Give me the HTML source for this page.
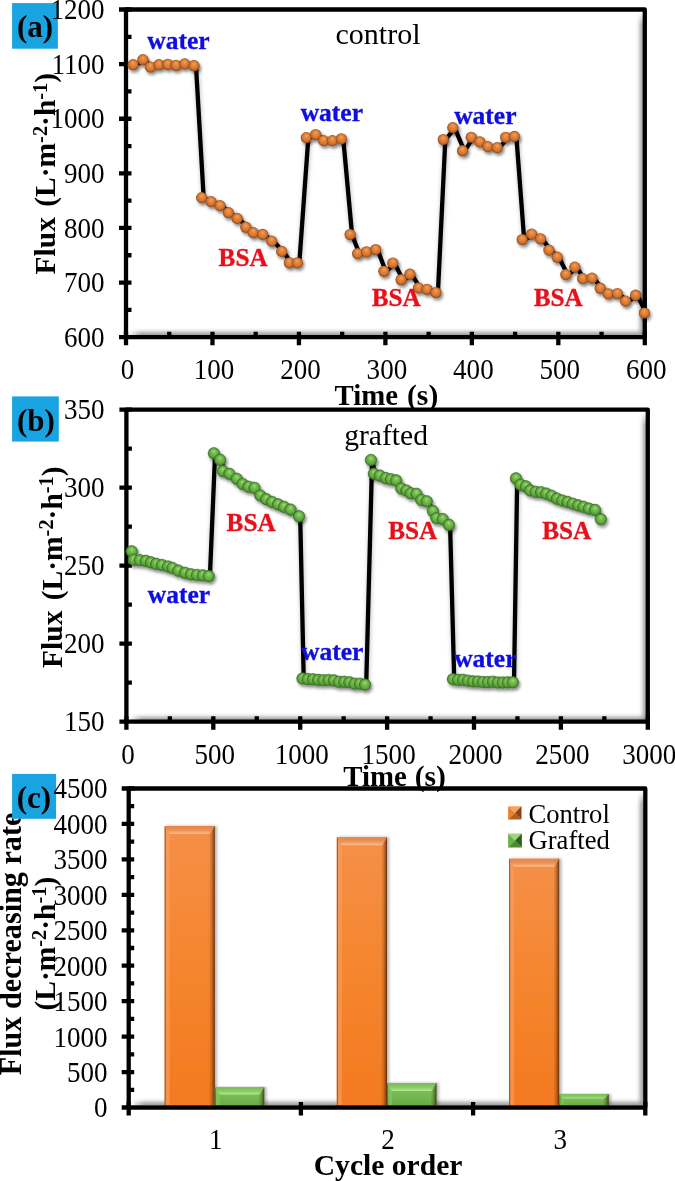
<!DOCTYPE html><html><head><meta charset="utf-8"><style>html,body{margin:0;padding:0;background:#fff;width:675px;height:1181px;overflow:hidden}#w{position:relative;width:675px;height:1181px}svg{position:absolute;left:0;top:0;display:block;will-change:transform}text{font-family:"Liberation Serif",serif}</style></head><body><div id="w">
<div style="position:absolute;left:128.2px;top:11.7px;width:514.5px;height:323.4px;box-shadow:inset -5px -5px 4px -2px rgba(0,0,0,0.4);-webkit-mask-image:linear-gradient(to bottom,transparent 0,#000 13px),linear-gradient(to right,transparent 0,#000 13px);-webkit-mask-composite:source-in;mask-composite:intersect"></div>
<div style="position:absolute;left:128.6px;top:411.8px;width:517.1px;height:307.8px;box-shadow:inset -5px -5px 4px -2px rgba(0,0,0,0.4);-webkit-mask-image:linear-gradient(to bottom,transparent 0,#000 13px),linear-gradient(to right,transparent 0,#000 13px);-webkit-mask-composite:source-in;mask-composite:intersect"></div>
<div style="position:absolute;left:130.8px;top:790.6px;width:512.3px;height:314.7px;box-shadow:inset -5px -5px 4px -2px rgba(0,0,0,0.4);-webkit-mask-image:linear-gradient(to bottom,transparent 0,#000 13px),linear-gradient(to right,transparent 0,#000 13px);-webkit-mask-composite:source-in;mask-composite:intersect"></div>
<svg width="675" height="1181" viewBox="0 0 675 1181">
<defs>
<radialGradient id="gO" cx="0.5" cy="0.5" r="0.5" fx="0.5" fy="0.3"><stop offset="0" stop-color="#F4A468"/><stop offset="0.35" stop-color="#E6883E"/><stop offset="0.7" stop-color="#D47430"/><stop offset="0.9" stop-color="#A85A22"/><stop offset="1" stop-color="#7A3F14"/></radialGradient>
<radialGradient id="gG" cx="0.5" cy="0.5" r="0.5" fx="0.5" fy="0.3"><stop offset="0" stop-color="#A2DC7A"/><stop offset="0.35" stop-color="#78C050"/><stop offset="0.7" stop-color="#62A840"/><stop offset="0.9" stop-color="#4A8A30"/><stop offset="1" stop-color="#2E5E1A"/></radialGradient>
<filter id="ds" x="-20%" y="-20%" width="140%" height="140%"><feDropShadow dx="1.5" dy="2.5" stdDeviation="1.8" flood-color="#000" flood-opacity="0.45"/></filter>
<filter id="dl" x="-20%" y="-20%" width="140%" height="140%"><feDropShadow dx="0.5" dy="0.5" stdDeviation="2.2" flood-color="#000" flood-opacity="0.28"/></filter>
<filter id="db" x="-20%" y="-5%" width="140%" height="110%"><feDropShadow dx="2" dy="0" stdDeviation="1.5" flood-color="#000" flood-opacity="0.3"/></filter>
<linearGradient id="bOv" x1="0" y1="0" x2="0" y2="1"><stop offset="0" stop-color="#F59048"/><stop offset="0.5" stop-color="#F5852E"/><stop offset="1" stop-color="#F37A20"/></linearGradient>
<linearGradient id="tO" x1="0" y1="0" x2="0" y2="1"><stop offset="0" stop-color="#E4844A"/><stop offset="0.55" stop-color="#EE9458"/><stop offset="1" stop-color="#FBBE8A"/></linearGradient>
<linearGradient id="tG" x1="0" y1="0" x2="0" y2="1"><stop offset="0" stop-color="#78BA56"/><stop offset="0.55" stop-color="#8ACC66"/><stop offset="1" stop-color="#B2EA90"/></linearGradient>
<linearGradient id="bGv" x1="0" y1="0" x2="0" y2="1"><stop offset="0" stop-color="#86C860"/><stop offset="1" stop-color="#68AC44"/></linearGradient>
<linearGradient id="bR" x1="0" y1="0" x2="1" y2="0"><stop offset="0" stop-color="#2A1000" stop-opacity="0"/><stop offset="0.5" stop-color="#2A1000" stop-opacity="0.22"/><stop offset="0.85" stop-color="#2A1000" stop-opacity="0.55"/><stop offset="1" stop-color="#2A1000" stop-opacity="0.75"/></linearGradient>
<linearGradient id="bL" x1="0" y1="0" x2="1" y2="0"><stop offset="0" stop-color="#000" stop-opacity="0.25"/><stop offset="0.3" stop-color="#fff" stop-opacity="0.15"/><stop offset="1" stop-color="#fff" stop-opacity="0"/></linearGradient>
</defs>
<path d="M126,337.2V9.5H644.8V337.2" stroke="#000" stroke-width="4.3" fill="none" stroke-linejoin="round"/>
<path d="M119,9.5H126M644.8,337.2V345.2M126,337.2V345.2M119,337.2H646.9499999999999M119,337.20H131.5M119,282.58H131.5M119,227.97H131.5M119,173.35H131.5M119,118.73H131.5M119,64.12H131.5M119,9.50H131.5M126,309.89H131.5M126,255.27H131.5M126,200.66H131.5M126,146.04H131.5M126,91.42H131.5M126,36.81H131.5M126.00,331.7V345.2M212.47,331.7V345.2M298.93,331.7V345.2M385.40,331.7V345.2M471.87,331.7V345.2M558.33,331.7V345.2M644.80,331.7V345.2M169.23,331.7V337.2M255.70,331.7V337.2M342.17,331.7V337.2M428.63,331.7V337.2M515.10,331.7V337.2M601.57,331.7V337.2" stroke="#000" stroke-width="4.3" fill="none"/>
<polyline points="135.1,65.2 144.9,60.2 152.4,67.5 160.9,65.2 169.7,64.8 178.0,65.8 186.7,64.4 196.0,66.2 203.7,198.1 213.1,202.1 222.0,206.1 230.4,213.2 239.2,218.9 247.8,227.7 255.2,233.1 264.7,234.9 273.6,241.6 283.7,251.9 291.3,263.3 299.3,263.3 308.3,138.1 317.6,135.0 325.6,141.1 334.4,141.1 343.3,139.3 352.1,235.0 359.6,254.1 368.4,252.3 377.7,250.0 385.9,271.8 394.8,263.5 403.1,280.2 411.9,274.7 420.4,288.4 429.0,289.8 437.9,293.0 445.3,140.0 454.8,128.1 464.5,151.2 473.2,137.8 481.8,142.3 489.8,147.1 499.2,148.1 507.6,137.8 516.4,136.9 524.2,240.0 533.6,234.6 542.5,239.3 550.9,250.6 559.2,257.7 567.8,275.1 576.8,267.6 584.6,279.1 594.0,278.6 602.2,288.7 610.2,294.3 619.4,294.0 627.5,301.6 637.6,295.7 646.4,313.5" fill="none" stroke="#000" stroke-width="4.3" stroke-linejoin="round" filter="url(#dl)"/>
<g filter="url(#ds)"><circle cx="133.1" cy="64.7" r="5.6" fill="url(#gO)"/><circle cx="142.9" cy="59.7" r="5.6" fill="url(#gO)"/><circle cx="150.4" cy="67.0" r="5.6" fill="url(#gO)"/><circle cx="158.9" cy="64.7" r="5.6" fill="url(#gO)"/><circle cx="167.7" cy="64.3" r="5.6" fill="url(#gO)"/><circle cx="176.0" cy="65.3" r="5.6" fill="url(#gO)"/><circle cx="184.7" cy="63.9" r="5.6" fill="url(#gO)"/><circle cx="194.0" cy="65.7" r="5.6" fill="url(#gO)"/><circle cx="201.7" cy="197.6" r="5.6" fill="url(#gO)"/><circle cx="211.1" cy="201.6" r="5.6" fill="url(#gO)"/><circle cx="220.0" cy="205.6" r="5.6" fill="url(#gO)"/><circle cx="228.4" cy="212.7" r="5.6" fill="url(#gO)"/><circle cx="237.2" cy="218.4" r="5.6" fill="url(#gO)"/><circle cx="245.8" cy="227.2" r="5.6" fill="url(#gO)"/><circle cx="253.2" cy="232.6" r="5.6" fill="url(#gO)"/><circle cx="262.7" cy="234.4" r="5.6" fill="url(#gO)"/><circle cx="271.6" cy="241.1" r="5.6" fill="url(#gO)"/><circle cx="281.7" cy="251.4" r="5.6" fill="url(#gO)"/><circle cx="289.3" cy="262.8" r="5.6" fill="url(#gO)"/><circle cx="297.3" cy="262.8" r="5.6" fill="url(#gO)"/><circle cx="306.3" cy="137.6" r="5.6" fill="url(#gO)"/><circle cx="315.6" cy="134.5" r="5.6" fill="url(#gO)"/><circle cx="323.6" cy="140.6" r="5.6" fill="url(#gO)"/><circle cx="332.4" cy="140.6" r="5.6" fill="url(#gO)"/><circle cx="341.3" cy="138.8" r="5.6" fill="url(#gO)"/><circle cx="350.1" cy="234.5" r="5.6" fill="url(#gO)"/><circle cx="357.6" cy="253.6" r="5.6" fill="url(#gO)"/><circle cx="366.4" cy="251.8" r="5.6" fill="url(#gO)"/><circle cx="375.7" cy="249.5" r="5.6" fill="url(#gO)"/><circle cx="383.9" cy="271.3" r="5.6" fill="url(#gO)"/><circle cx="392.8" cy="263.0" r="5.6" fill="url(#gO)"/><circle cx="401.1" cy="279.7" r="5.6" fill="url(#gO)"/><circle cx="409.9" cy="274.2" r="5.6" fill="url(#gO)"/><circle cx="418.4" cy="287.9" r="5.6" fill="url(#gO)"/><circle cx="427.0" cy="289.3" r="5.6" fill="url(#gO)"/><circle cx="435.9" cy="292.5" r="5.6" fill="url(#gO)"/><circle cx="443.3" cy="139.5" r="5.6" fill="url(#gO)"/><circle cx="452.8" cy="127.6" r="5.6" fill="url(#gO)"/><circle cx="462.5" cy="150.7" r="5.6" fill="url(#gO)"/><circle cx="471.2" cy="137.3" r="5.6" fill="url(#gO)"/><circle cx="479.8" cy="141.8" r="5.6" fill="url(#gO)"/><circle cx="487.8" cy="146.6" r="5.6" fill="url(#gO)"/><circle cx="497.2" cy="147.6" r="5.6" fill="url(#gO)"/><circle cx="505.6" cy="137.3" r="5.6" fill="url(#gO)"/><circle cx="514.4" cy="136.4" r="5.6" fill="url(#gO)"/><circle cx="522.2" cy="239.5" r="5.6" fill="url(#gO)"/><circle cx="531.6" cy="234.1" r="5.6" fill="url(#gO)"/><circle cx="540.5" cy="238.8" r="5.6" fill="url(#gO)"/><circle cx="548.9" cy="250.1" r="5.6" fill="url(#gO)"/><circle cx="557.2" cy="257.2" r="5.6" fill="url(#gO)"/><circle cx="565.8" cy="274.6" r="5.6" fill="url(#gO)"/><circle cx="574.8" cy="267.1" r="5.6" fill="url(#gO)"/><circle cx="582.6" cy="278.6" r="5.6" fill="url(#gO)"/><circle cx="592.0" cy="278.1" r="5.6" fill="url(#gO)"/><circle cx="600.2" cy="288.2" r="5.6" fill="url(#gO)"/><circle cx="608.2" cy="293.8" r="5.6" fill="url(#gO)"/><circle cx="617.4" cy="293.5" r="5.6" fill="url(#gO)"/><circle cx="625.5" cy="301.1" r="5.6" fill="url(#gO)"/><circle cx="635.6" cy="295.2" r="5.6" fill="url(#gO)"/><circle cx="644.4" cy="313.0" r="5.6" fill="url(#gO)"/></g>
<text x="147.30" y="49.00" font-size="25.5" text-anchor="start" font-weight="bold" fill="#0E0EE2"  stroke="#0E0EE2" stroke-width="0.35">water</text>
<text x="300.70" y="121.30" font-size="25.5" text-anchor="start" font-weight="bold" fill="#0E0EE2"  stroke="#0E0EE2" stroke-width="0.35">water</text>
<text x="454.20" y="124.00" font-size="25.5" text-anchor="start" font-weight="bold" fill="#0E0EE2"  stroke="#0E0EE2" stroke-width="0.35">water</text>
<text x="335.50" y="43.90" font-size="30" text-anchor="start" fill="#000" >control</text>
<text x="218.60" y="265.90" font-size="25.2" text-anchor="start" font-weight="bold" fill="#E8101A"  stroke="#E8101A" stroke-width="0.35">BSA</text>
<text x="371.80" y="305.70" font-size="25.2" text-anchor="start" font-weight="bold" fill="#E8101A"  stroke="#E8101A" stroke-width="0.35">BSA</text>
<text x="533.80" y="305.90" font-size="25.2" text-anchor="start" font-weight="bold" fill="#E8101A"  stroke="#E8101A" stroke-width="0.35">BSA</text>
<text x="334.61" y="404.60" font-size="28.8" text-anchor="start" font-weight="bold" fill="#000" >Time</text>
<text x="407.02" y="404.60" font-size="29.6" text-anchor="start" font-weight="bold" fill="#000" >(s)</text>
<text transform="translate(55.2,274.39) rotate(-90) scale(0.97,1)" x="0" y="0" font-size="30.41" font-weight="bold" text-anchor="start">Flux <tspan dx="3">(L·m<tspan font-size="21" dy="-8.7">-2</tspan><tspan dy="8.7">·h</tspan><tspan font-size="21" dy="-8.7">-1</tspan><tspan dy="8.7">)</tspan></tspan></text>
<rect x="12.1" y="3.1" width="45.8" height="45.6" fill="#19A3E1"/>
<text x="35.00" y="37.20" font-size="31" text-anchor="middle" font-weight="bold" fill="#000" >(a)</text>
<text transform="translate(104.50,346.80) scale(0.95,1)" font-size="28.5" text-anchor="end">600</text>
<text transform="translate(104.50,292.18) scale(0.95,1)" font-size="28.5" text-anchor="end">700</text>
<text transform="translate(104.50,237.57) scale(0.95,1)" font-size="28.5" text-anchor="end">800</text>
<text transform="translate(104.50,182.95) scale(0.95,1)" font-size="28.5" text-anchor="end">900</text>
<text transform="translate(104.50,128.33) scale(0.95,1)" font-size="28.5" text-anchor="end">1000</text>
<text transform="translate(104.50,73.72) scale(0.95,1)" font-size="28.5" text-anchor="end">1100</text>
<text transform="translate(104.50,19.10) scale(0.95,1)" font-size="28.5" text-anchor="end">1200</text>
<text transform="translate(127.50,379.00) scale(0.95,1)" font-size="28.5" text-anchor="middle">0</text>
<text transform="translate(213.97,379.00) scale(0.95,1)" font-size="28.5" text-anchor="middle">100</text>
<text transform="translate(300.43,379.00) scale(0.95,1)" font-size="28.5" text-anchor="middle">200</text>
<text transform="translate(386.90,379.00) scale(0.95,1)" font-size="28.5" text-anchor="middle">300</text>
<text transform="translate(473.37,379.00) scale(0.95,1)" font-size="28.5" text-anchor="middle">400</text>
<text transform="translate(559.83,379.00) scale(0.95,1)" font-size="28.5" text-anchor="middle">500</text>
<text transform="translate(646.30,379.00) scale(0.95,1)" font-size="28.5" text-anchor="middle">600</text>
<path d="M126.4,721.7V409.6H647.8V721.7" stroke="#000" stroke-width="4.3" fill="none" stroke-linejoin="round"/>
<path d="M119.4,409.6H126.4M647.8,721.7V729.7M126.4,721.7V729.7M119.4,721.7H649.9499999999999M119.4,721.70H131.9M119.4,643.68H131.9M119.4,565.65H131.9M119.4,487.63H131.9M119.4,409.60H131.9M126.4,682.69H131.9M126.4,604.66H131.9M126.4,526.64H131.9M126.4,448.61H131.9M126.40,716.2V729.7M213.30,716.2V729.7M300.20,716.2V729.7M387.10,716.2V729.7M474.00,716.2V729.7M560.90,716.2V729.7M647.80,716.2V729.7M169.85,716.2V721.7M256.75,716.2V721.7M343.65,716.2V721.7M430.55,716.2V721.7M517.45,716.2V721.7M604.35,716.2V721.7" stroke="#000" stroke-width="4.3" fill="none"/>
<polyline points="132.9,551.6 135.1,560.1 141.0,560.5 146.9,561.2 152.1,562.7 157.3,564.2 163.2,565.3 169.2,566.8 173.7,568.3 179.5,570.9 186.2,573.1 192.1,574.6 198.1,575.3 204.0,575.7 209.9,576.4 215.1,453.6 221.3,460.1 224.0,471.4 230.6,474.1 238.0,479.1 243.8,484.3 249.6,487.0 255.6,488.1 261.5,495.8 267.4,499.4 273.3,502.3 279.3,504.7 285.2,507.1 291.7,509.9 300.2,516.6 303.7,678.8 308.9,679.4 314.1,679.6 319.3,680.2 324.5,680.5 329.7,680.3 334.9,680.7 340.2,682.1 345.4,682.1 350.6,682.6 355.8,684.0 361.0,684.0 366.2,684.9 372.1,460.3 375.1,474.0 381.0,475.9 386.9,478.4 392.1,479.6 397.3,480.7 402.5,488.8 407.6,490.8 411.9,493.6 417.6,494.1 422.5,500.3 427.9,501.6 434.1,511.4 437.6,518.5 443.9,519.4 450.1,525.2 454.2,679.5 459.2,680.1 464.2,680.1 469.1,681.0 474.1,681.7 479.1,681.8 484.1,682.3 489.1,682.4 494.1,682.0 499.0,682.8 504.0,682.8 509.0,682.7 514.0,682.6 517.2,478.7 521.6,485.0 527.0,486.7 531.4,490.7 536.8,492.1 542.1,492.5 547.4,493.9 552.8,496.1 558.1,498.9 563.4,500.8 568.6,502.2 574.0,504.0 579.3,505.7 584.6,507.1 590.0,508.9 596.2,510.2 602.0,519.5" fill="none" stroke="#000" stroke-width="4.3" stroke-linejoin="round" filter="url(#dl)"/>
<g filter="url(#ds)" stroke="#3C7428" stroke-width="0.6"><circle cx="131.7" cy="551.3" r="5.8" fill="url(#gG)"/><circle cx="133.9" cy="559.8" r="5.8" fill="url(#gG)"/><circle cx="139.8" cy="560.2" r="5.8" fill="url(#gG)"/><circle cx="145.7" cy="560.9" r="5.8" fill="url(#gG)"/><circle cx="150.9" cy="562.4" r="5.8" fill="url(#gG)"/><circle cx="156.1" cy="563.9" r="5.8" fill="url(#gG)"/><circle cx="162.0" cy="565.0" r="5.8" fill="url(#gG)"/><circle cx="168.0" cy="566.5" r="5.8" fill="url(#gG)"/><circle cx="172.5" cy="568.0" r="5.8" fill="url(#gG)"/><circle cx="178.3" cy="570.6" r="5.8" fill="url(#gG)"/><circle cx="185.0" cy="572.8" r="5.8" fill="url(#gG)"/><circle cx="190.9" cy="574.3" r="5.8" fill="url(#gG)"/><circle cx="196.9" cy="575.0" r="5.8" fill="url(#gG)"/><circle cx="202.8" cy="575.4" r="5.8" fill="url(#gG)"/><circle cx="208.7" cy="576.1" r="5.8" fill="url(#gG)"/><circle cx="213.9" cy="453.3" r="5.8" fill="url(#gG)"/><circle cx="220.1" cy="459.8" r="5.8" fill="url(#gG)"/><circle cx="222.8" cy="471.1" r="5.8" fill="url(#gG)"/><circle cx="229.4" cy="473.8" r="5.8" fill="url(#gG)"/><circle cx="236.8" cy="478.8" r="5.8" fill="url(#gG)"/><circle cx="242.6" cy="484.0" r="5.8" fill="url(#gG)"/><circle cx="248.4" cy="486.7" r="5.8" fill="url(#gG)"/><circle cx="254.4" cy="487.8" r="5.8" fill="url(#gG)"/><circle cx="260.3" cy="495.5" r="5.8" fill="url(#gG)"/><circle cx="266.2" cy="499.1" r="5.8" fill="url(#gG)"/><circle cx="272.1" cy="502.0" r="5.8" fill="url(#gG)"/><circle cx="278.1" cy="504.4" r="5.8" fill="url(#gG)"/><circle cx="284.0" cy="506.8" r="5.8" fill="url(#gG)"/><circle cx="290.5" cy="509.6" r="5.8" fill="url(#gG)"/><circle cx="299.0" cy="516.3" r="5.8" fill="url(#gG)"/><circle cx="302.5" cy="678.5" r="5.8" fill="url(#gG)"/><circle cx="307.7" cy="679.1" r="5.8" fill="url(#gG)"/><circle cx="312.9" cy="679.3" r="5.8" fill="url(#gG)"/><circle cx="318.1" cy="679.9" r="5.8" fill="url(#gG)"/><circle cx="323.3" cy="680.2" r="5.8" fill="url(#gG)"/><circle cx="328.5" cy="680.0" r="5.8" fill="url(#gG)"/><circle cx="333.8" cy="680.4" r="5.8" fill="url(#gG)"/><circle cx="339.0" cy="681.8" r="5.8" fill="url(#gG)"/><circle cx="344.2" cy="681.8" r="5.8" fill="url(#gG)"/><circle cx="349.4" cy="682.3" r="5.8" fill="url(#gG)"/><circle cx="354.6" cy="683.7" r="5.8" fill="url(#gG)"/><circle cx="359.8" cy="683.7" r="5.8" fill="url(#gG)"/><circle cx="365.0" cy="684.6" r="5.8" fill="url(#gG)"/><circle cx="370.9" cy="460.0" r="5.8" fill="url(#gG)"/><circle cx="373.9" cy="473.7" r="5.8" fill="url(#gG)"/><circle cx="379.8" cy="475.6" r="5.8" fill="url(#gG)"/><circle cx="385.7" cy="478.1" r="5.8" fill="url(#gG)"/><circle cx="390.9" cy="479.3" r="5.8" fill="url(#gG)"/><circle cx="396.1" cy="480.4" r="5.8" fill="url(#gG)"/><circle cx="401.3" cy="488.5" r="5.8" fill="url(#gG)"/><circle cx="406.4" cy="490.5" r="5.8" fill="url(#gG)"/><circle cx="410.7" cy="493.3" r="5.8" fill="url(#gG)"/><circle cx="416.4" cy="493.8" r="5.8" fill="url(#gG)"/><circle cx="421.3" cy="500.0" r="5.8" fill="url(#gG)"/><circle cx="426.7" cy="501.3" r="5.8" fill="url(#gG)"/><circle cx="432.9" cy="511.1" r="5.8" fill="url(#gG)"/><circle cx="436.4" cy="518.2" r="5.8" fill="url(#gG)"/><circle cx="442.7" cy="519.1" r="5.8" fill="url(#gG)"/><circle cx="448.9" cy="524.9" r="5.8" fill="url(#gG)"/><circle cx="453.0" cy="679.2" r="5.8" fill="url(#gG)"/><circle cx="458.0" cy="679.8" r="5.8" fill="url(#gG)"/><circle cx="463.0" cy="679.8" r="5.8" fill="url(#gG)"/><circle cx="467.9" cy="680.7" r="5.8" fill="url(#gG)"/><circle cx="472.9" cy="681.4" r="5.8" fill="url(#gG)"/><circle cx="477.9" cy="681.5" r="5.8" fill="url(#gG)"/><circle cx="482.9" cy="682.0" r="5.8" fill="url(#gG)"/><circle cx="487.9" cy="682.1" r="5.8" fill="url(#gG)"/><circle cx="492.9" cy="681.7" r="5.8" fill="url(#gG)"/><circle cx="497.8" cy="682.5" r="5.8" fill="url(#gG)"/><circle cx="502.8" cy="682.5" r="5.8" fill="url(#gG)"/><circle cx="507.8" cy="682.4" r="5.8" fill="url(#gG)"/><circle cx="512.8" cy="682.3" r="5.8" fill="url(#gG)"/><circle cx="516.0" cy="478.4" r="5.8" fill="url(#gG)"/><circle cx="520.4" cy="484.7" r="5.8" fill="url(#gG)"/><circle cx="525.8" cy="486.4" r="5.8" fill="url(#gG)"/><circle cx="530.2" cy="490.4" r="5.8" fill="url(#gG)"/><circle cx="535.6" cy="491.8" r="5.8" fill="url(#gG)"/><circle cx="540.9" cy="492.2" r="5.8" fill="url(#gG)"/><circle cx="546.2" cy="493.6" r="5.8" fill="url(#gG)"/><circle cx="551.6" cy="495.8" r="5.8" fill="url(#gG)"/><circle cx="556.9" cy="498.6" r="5.8" fill="url(#gG)"/><circle cx="562.2" cy="500.5" r="5.8" fill="url(#gG)"/><circle cx="567.4" cy="501.9" r="5.8" fill="url(#gG)"/><circle cx="572.8" cy="503.7" r="5.8" fill="url(#gG)"/><circle cx="578.1" cy="505.4" r="5.8" fill="url(#gG)"/><circle cx="583.4" cy="506.8" r="5.8" fill="url(#gG)"/><circle cx="588.8" cy="508.6" r="5.8" fill="url(#gG)"/><circle cx="595.0" cy="509.9" r="5.8" fill="url(#gG)"/><circle cx="600.8" cy="519.2" r="5.8" fill="url(#gG)"/></g>
<text x="344.22" y="444.90" font-size="29.6" text-anchor="start" fill="#000" >grafted</text>
<text x="226.60" y="530.90" font-size="25.2" text-anchor="start" font-weight="bold" fill="#E8101A"  stroke="#E8101A" stroke-width="0.35">BSA</text>
<text x="388.30" y="539.30" font-size="25.2" text-anchor="start" font-weight="bold" fill="#E8101A"  stroke="#E8101A" stroke-width="0.35">BSA</text>
<text x="542.20" y="539.10" font-size="25.2" text-anchor="start" font-weight="bold" fill="#E8101A"  stroke="#E8101A" stroke-width="0.35">BSA</text>
<text x="147.80" y="603.30" font-size="25.5" text-anchor="start" font-weight="bold" fill="#0E0EE2"  stroke="#0E0EE2" stroke-width="0.35">water</text>
<text x="301.00" y="659.80" font-size="25.5" text-anchor="start" font-weight="bold" fill="#0E0EE2"  stroke="#0E0EE2" stroke-width="0.35">water</text>
<text x="454.20" y="667.30" font-size="25.5" text-anchor="start" font-weight="bold" fill="#0E0EE2"  stroke="#0E0EE2" stroke-width="0.35">water</text>
<text x="343.21" y="786.20" font-size="28.8" text-anchor="start" font-weight="bold" fill="#000" >Time</text>
<text x="414.72" y="786.20" font-size="29.6" text-anchor="start" font-weight="bold" fill="#000" >(s)</text>
<text transform="translate(62,667.89) rotate(-90) scale(0.97,1)" x="0" y="0" font-size="30.41" font-weight="bold" text-anchor="start">Flux <tspan dx="3">(L·m<tspan font-size="21" dy="-8.7">-2</tspan><tspan dy="8.7">·h</tspan><tspan font-size="21" dy="-8.7">-1</tspan><tspan dy="8.7">)</tspan></tspan></text>
<rect x="12.1" y="396.4" width="46.7" height="45.2" fill="#19A3E1"/>
<text x="36.00" y="430.80" font-size="31" text-anchor="middle" font-weight="bold" fill="#000" >(b)</text>
<text transform="translate(104.50,731.30) scale(0.95,1)" font-size="28.5" text-anchor="end">150</text>
<text transform="translate(104.50,653.28) scale(0.95,1)" font-size="28.5" text-anchor="end">200</text>
<text transform="translate(104.50,575.25) scale(0.95,1)" font-size="28.5" text-anchor="end">250</text>
<text transform="translate(104.50,497.23) scale(0.95,1)" font-size="28.5" text-anchor="end">300</text>
<text transform="translate(104.50,419.20) scale(0.95,1)" font-size="28.5" text-anchor="end">350</text>
<text transform="translate(127.90,763.50) scale(0.95,1)" font-size="28.5" text-anchor="middle">0</text>
<text transform="translate(214.80,763.50) scale(0.95,1)" font-size="28.5" text-anchor="middle">500</text>
<text transform="translate(301.70,763.50) scale(0.95,1)" font-size="28.5" text-anchor="middle">1000</text>
<text transform="translate(388.60,763.50) scale(0.95,1)" font-size="28.5" text-anchor="middle">1500</text>
<text transform="translate(475.50,763.50) scale(0.95,1)" font-size="28.5" text-anchor="middle">2000</text>
<text transform="translate(562.40,763.50) scale(0.95,1)" font-size="28.5" text-anchor="middle">2500</text>
<text transform="translate(649.30,763.50) scale(0.95,1)" font-size="28.5" text-anchor="middle">3000</text>
<g filter="url(#db)"><rect x="164.6" y="826.1" width="50.2" height="279.3" fill="url(#bOv)"/><polygon points="164.6,826.1 169.6,834.1 169.6,1105.3 164.6,1105.3" fill="#F6A066" opacity="0.6"/><rect x="208.8" y="826.1" width="6" height="279.3" fill="url(#bR)"/><rect x="164.6" y="826.1" width="1.2" height="279.3" fill="#000" opacity="0.35"/><polygon points="164.6,826.1 214.8,826.1 209.8,834.1 169.6,834.1" fill="url(#tO)"/></g>
<g filter="url(#db)"><rect x="214.8" y="1087.3" width="49.5" height="18.1" fill="url(#bGv)"/><polygon points="214.8,1087.3 219.8,1094.5 219.8,1105.3 214.8,1105.3" fill="#86C862" opacity="0.6"/><rect x="258.3" y="1087.3" width="6" height="18.1" fill="url(#bR)"/><rect x="214.8" y="1087.3" width="1.2" height="18.1" fill="#000" opacity="0.35"/><polygon points="214.8,1087.3 264.3,1087.3 259.3,1094.5 219.8,1094.5" fill="url(#tG)"/></g>
<g filter="url(#db)"><rect x="336.8" y="837.3" width="50.2" height="268.1" fill="url(#bOv)"/><polygon points="336.8,837.3 341.8,845.3 341.8,1105.3 336.8,1105.3" fill="#F6A066" opacity="0.6"/><rect x="381.0" y="837.3" width="6" height="268.1" fill="url(#bR)"/><rect x="336.8" y="837.3" width="1.2" height="268.1" fill="#000" opacity="0.35"/><polygon points="336.8,837.3 387.0,837.3 382.0,845.3 341.8,845.3" fill="url(#tO)"/></g>
<g filter="url(#db)"><rect x="387.0" y="1083.0" width="49.5" height="22.3" fill="url(#bGv)"/><polygon points="387.0,1083.0 392.0,1091.0 392.0,1105.3 387.0,1105.3" fill="#86C862" opacity="0.6"/><rect x="430.5" y="1083.0" width="6" height="22.3" fill="url(#bR)"/><rect x="387.0" y="1083.0" width="1.2" height="22.3" fill="#000" opacity="0.35"/><polygon points="387.0,1083.0 436.5,1083.0 431.5,1091.0 392.0,1091.0" fill="url(#tG)"/></g>
<g filter="url(#db)"><rect x="509.0" y="858.8" width="50.2" height="246.5" fill="url(#bOv)"/><polygon points="509.0,858.8 514.0,866.8 514.0,1105.3 509.0,1105.3" fill="#F6A066" opacity="0.6"/><rect x="553.2" y="858.8" width="6" height="246.5" fill="url(#bR)"/><rect x="509.0" y="858.8" width="1.2" height="246.5" fill="#000" opacity="0.35"/><polygon points="509.0,858.8 559.2,858.8 554.2,866.8 514.0,866.8" fill="url(#tO)"/></g>
<g filter="url(#db)"><rect x="559.2" y="1094.2" width="49.5" height="11.2" fill="url(#bGv)"/><polygon points="559.2,1094.2 563.7,1098.6 563.7,1105.3 559.2,1105.3" fill="#86C862" opacity="0.6"/><rect x="602.7" y="1094.2" width="6" height="11.2" fill="url(#bR)"/><rect x="559.2" y="1094.2" width="1.2" height="11.2" fill="#000" opacity="0.35"/><polygon points="559.2,1094.2 608.7,1094.2 604.2,1098.6 563.7,1098.6" fill="url(#tG)"/></g>
<path d="M128.7,1107.5V788.5H645.3V1107.5" stroke="#000" stroke-width="4.3" fill="none" stroke-linejoin="round"/>
<path d="M121.69999999999999,788.5H128.7M645.3,1107.5V1115.5M128.7,1107.5V1115.5M121.69999999999999,1107.5H647.4499999999999M121.69999999999999,1107.50H134.2M121.69999999999999,1072.06H134.2M121.69999999999999,1036.61H134.2M121.69999999999999,1001.17H134.2M121.69999999999999,965.72H134.2M121.69999999999999,930.28H134.2M121.69999999999999,894.83H134.2M121.69999999999999,859.39H134.2M121.69999999999999,823.94H134.2M121.69999999999999,788.50H134.2M128.7,1089.78H134.2M128.7,1054.33H134.2M128.7,1018.89H134.2M128.7,983.44H134.2M128.7,948.00H134.2M128.7,912.56H134.2M128.7,877.11H134.2M128.7,841.67H134.2M128.7,806.22H134.2M128.70,1102.0V1115.5M300.90,1102.0V1115.5M473.10,1102.0V1115.5M645.30,1102.0V1115.5" stroke="#000" stroke-width="4.3" fill="none"/>
<polygon points="508.1,806.2 521.5,806.2 514.8000000000001,812.9000000000001" fill="#F8A060"/><polygon points="508.1,806.2 514.8000000000001,812.9000000000001 508.1,819.6" fill="#E88030"/><polygon points="508.1,819.6 514.8000000000001,812.9000000000001 521.5,819.6" fill="#B85C1C"/><polygon points="521.5,806.2 514.8000000000001,812.9000000000001 521.5,819.6" fill="#8A4214"/>
<polygon points="508.1,833.6 521.9,833.6 515.0,840.5" fill="#9AD878"/><polygon points="508.1,833.6 515.0,840.5 508.1,847.4" fill="#6AB048"/><polygon points="508.1,847.4 515.0,840.5 521.9,847.4" fill="#4A8A30"/><polygon points="521.9,833.6 515.0,840.5 521.9,847.4" fill="#2E5E1C"/>
<text x="528.54" y="822.70" font-size="26.6" text-anchor="start" fill="#000" >Control</text>
<text x="528.54" y="849.20" font-size="26.6" text-anchor="start" fill="#000" >Grafted</text>
<text x="313.72" y="1174.60" font-size="29.6" text-anchor="start" font-weight="bold" fill="#000" >Cycle order</text>
<text transform="translate(20.7,1075.30) rotate(-90) scale(0.97,1)" x="0" y="0" font-size="31.13" font-weight="bold" text-anchor="start">Flux decreasing rate</text>
<text transform="translate(55,1010.59) rotate(-90) scale(0.97,1)" x="0" y="0" font-size="30.41" font-weight="bold" text-anchor="start">(L·m<tspan font-size="21" dy="-8.7">-2</tspan><tspan dy="8.7">·h</tspan><tspan font-size="21" dy="-8.7">-1</tspan><tspan dy="8.7">)</tspan></text>
<rect x="12.1" y="773.9" width="44" height="44.9" fill="#19A3E1"/>
<text x="33.90" y="808.40" font-size="31" text-anchor="middle" font-weight="bold" fill="#000" >(c)</text>
<text transform="translate(107.60,1117.40) scale(0.95,1)" font-size="28.5" text-anchor="end">0</text>
<text transform="translate(107.60,1081.96) scale(0.95,1)" font-size="28.5" text-anchor="end">500</text>
<text transform="translate(107.60,1046.51) scale(0.95,1)" font-size="28.5" text-anchor="end">1000</text>
<text transform="translate(107.60,1011.07) scale(0.95,1)" font-size="28.5" text-anchor="end">1500</text>
<text transform="translate(107.60,975.62) scale(0.95,1)" font-size="28.5" text-anchor="end">2000</text>
<text transform="translate(107.60,940.18) scale(0.95,1)" font-size="28.5" text-anchor="end">2500</text>
<text transform="translate(107.60,904.73) scale(0.95,1)" font-size="28.5" text-anchor="end">3000</text>
<text transform="translate(107.60,869.29) scale(0.95,1)" font-size="28.5" text-anchor="end">3500</text>
<text transform="translate(107.60,833.84) scale(0.95,1)" font-size="28.5" text-anchor="end">4000</text>
<text transform="translate(107.60,798.40) scale(0.95,1)" font-size="28.5" text-anchor="end">4500</text>
<text transform="translate(215.80,1149.00) scale(0.95,1)" font-size="28.5" text-anchor="middle">1</text>
<text transform="translate(388.00,1149.00) scale(0.95,1)" font-size="28.5" text-anchor="middle">2</text>
<text transform="translate(560.20,1149.00) scale(0.95,1)" font-size="28.5" text-anchor="middle">3</text>
</svg></div></body></html>
